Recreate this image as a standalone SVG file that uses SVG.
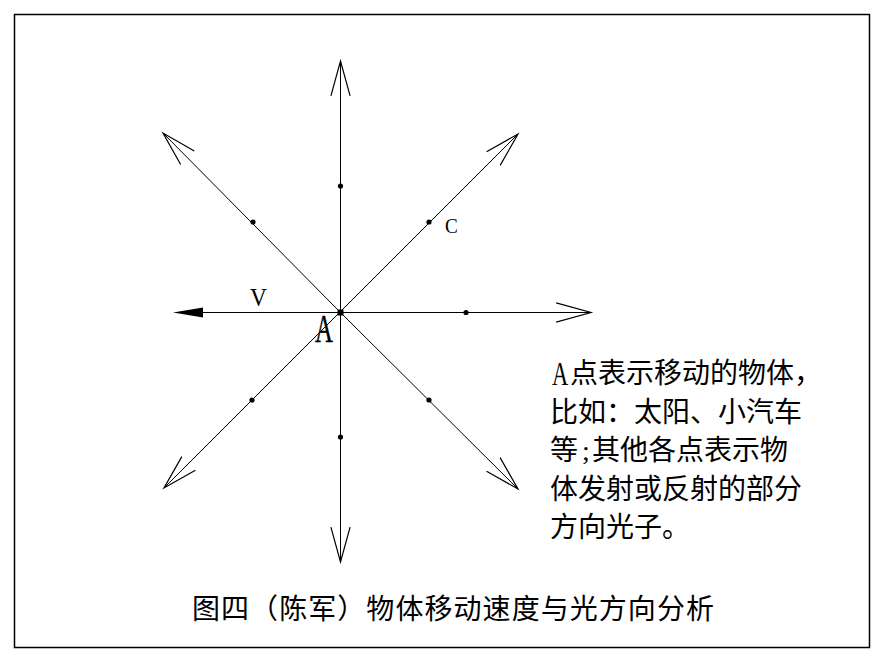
<svg xmlns="http://www.w3.org/2000/svg" width="887" height="664" viewBox="0 0 887 664">
<style>
.ax{stroke:#000;stroke-width:1;fill:none}
.dot{fill:#000}
.cjk{font-family:"Noto Sans CJK SC","Noto Sans CJK JP",sans-serif;font-size:28px;fill:#000}
.lat{font-family:"Liberation Serif",serif;fill:#000}
</style>
<defs>
<marker id="open" markerUnits="userSpaceOnUse" markerWidth="40" markerHeight="24" refX="0" refY="0" viewBox="-31 -10 33 20" orient="auto" overflow="visible">
<path d="M -29 -8 L 0 0 L -29 8" fill="none" stroke="#000" stroke-width="1"/>
</marker>
</defs>
<rect width="887" height="664" fill="#fff"/>
<rect id="frame" x="14.5" y="14.5" width="855" height="633" fill="none" stroke="#000" stroke-width="1.5"/>
<g id="connectors">
<line class="ax" x1="340.5" y1="312" x2="340.5" y2="61" marker-end="url(#open)" stroke-width="1.2"/>
<line class="ax" x1="340.5" y1="312" x2="340.5" y2="562" marker-end="url(#open)" stroke-width="1.2"/>
<line class="ax" x1="340" y1="312.5" x2="591" y2="312.5" marker-end="url(#open)"/>
<line class="ax" x1="340" y1="312.5" x2="200" y2="312.5"/>
<polygon points="173,312.5 203,307.5 203,317.5" fill="#000"/>
<line class="ax" x1="340" y1="312" x2="163" y2="133" marker-end="url(#open)"/>
<line class="ax" x1="340" y1="312" x2="518" y2="134" marker-end="url(#open)"/>
<line class="ax" x1="340" y1="312" x2="164" y2="488" marker-end="url(#open)"/>
<line class="ax" x1="340" y1="312" x2="518" y2="489" marker-end="url(#open)"/>
</g>
<g id="node-A">
<rect x="337.5" y="309.5" width="6" height="6" class="dot"/>
<text class="lat" transform="translate(315,342) scale(0.62,1)" font-size="40" stroke="#000" stroke-width="0.4">A</text>
</g>
<g id="node-V">
<text class="lat" transform="translate(250,306) scale(0.9,1)" font-size="26">V</text>
</g>
<g id="node-C">
<circle cx="429" cy="222" r="2.6" class="dot"/>
<text class="lat" transform="translate(445,233) scale(0.87,1)" font-size="22">C</text>
</g>
<g id="points">
<circle cx="340.5" cy="186" r="2.6" class="dot"/>
<circle cx="340.5" cy="437" r="2.6" class="dot"/>
<circle cx="466" cy="312.5" r="2.6" class="dot"/>
<circle cx="253" cy="222" r="2.6" class="dot"/>
<circle cx="252" cy="400" r="2.6" class="dot"/>
<circle cx="429" cy="400" r="2.6" class="dot"/>
</g>
<g id="note">
<text class="lat" transform="translate(552,385) scale(0.66,1)" font-size="34">A</text>
<text class="cjk" x="570" y="383">点表示移动的物体，</text>
<text class="cjk" x="550" y="422">比如：太阳、小汽车</text>
<text class="cjk" y="460"><tspan x="550">等</tspan><tspan x="582" style="font-family:'Liberation Serif',serif">;</tspan><tspan x="592">其他各点表示物</tspan></text>
<text class="cjk" x="550" y="499">体发射或反射的部分</text>
<text class="cjk" x="550" y="537">方向光子。</text>
</g>
<g id="caption">
<text class="cjk" x="192" y="619" font-size="29" textLength="522" lengthAdjust="spacing">图四（陈军）物体移动速度与光方向分析</text>
</g>
</svg>
